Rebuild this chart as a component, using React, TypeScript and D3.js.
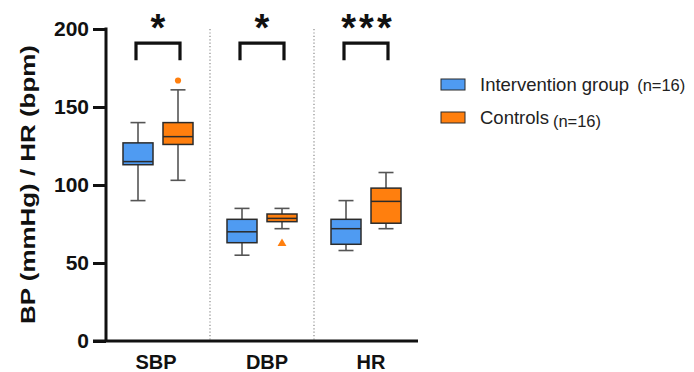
import { useEffect, useRef } from 'react';
import * as d3 from 'd3';

const categories = ['SBP', 'DBP', 'HR'];
const groups = ['Intervention group', 'Controls'];
const groupNotes = ['(n=16)', '(n=16)'];
const colors = ['#4f9bf2', '#ff7f0e'];

// box stats per category: [min, q1, median, q3, max]
const interventionStats = [
  [90, 113, 115, 127, 140],
  [55, 63, 70, 78, 85],
  [58, 62, 72, 78, 90],
];
const controlStats = [
  [103, 126, 131, 140, 161],
  [72, 76.5, 78.6, 81.4, 85],
  [72, 75.5, 89.5, 98, 108],
];
// outliers
const outliers = [
  { cat: 'SBP', group: 1, value: 167, shape: 'circle' },
  { cat: 'DBP', group: 1, value: 62.5, shape: 'triangle' },
];
const significance = ['*', '*', '***'];
const yTicks = [0, 50, 100, 150, 200];

const W = 694;
const H = 372;
const FONT = "'Liberation Sans', Arial, Helvetica, sans-serif";

const BoxChart = () => {
  const svgRef = useRef(null);

  useEffect(() => {
    const svg = d3.select(svgRef.current);
    svg.selectAll('*').remove();

    const left = 106, right = 418, top = 29, bottom = 341;

    const x = d3.scaleBand().domain(categories).range([left, right]);
    const xg = d3.scalePoint().domain(['0', '1']).range([0, x.bandwidth()]).padding(0.8);
    const y = d3.scaleLinear().domain([0, 200]).range([bottom, top]);
    const boxW = 30;
    const capW = 15;

    // dotted separators
    svg.append('g')
      .selectAll('line')
      .data(categories.slice(1))
      .enter()
      .append('line')
      .attr('x1', d => x(d))
      .attr('x2', d => x(d))
      .attr('y1', top)
      .attr('y2', bottom)
      .attr('stroke', '#8a8a8a')
      .attr('stroke-width', 1.2)
      .attr('stroke-dasharray', '1.2,2.2');

    const statsByGroup = [interventionStats, controlStats];

    statsByGroup.forEach((stats, gi) => {
      const g = svg.append('g');
      stats.forEach((s, ci) => {
        const cx = x(categories[ci]) + xg(String(gi));
        const [mn, q1, med, q3, mx] = s;
        // whiskers
        g.append('line')
          .attr('x1', cx).attr('x2', cx)
          .attr('y1', y(mx)).attr('y2', y(q3))
          .attr('stroke', '#555').attr('stroke-width', 1.6);
        g.append('line')
          .attr('x1', cx).attr('x2', cx)
          .attr('y1', y(q1)).attr('y2', y(mn))
          .attr('stroke', '#555').attr('stroke-width', 1.6);
        [mn, mx].forEach(v => {
          g.append('line')
            .attr('x1', cx - capW / 2).attr('x2', cx + capW / 2)
            .attr('y1', y(v)).attr('y2', y(v))
            .attr('stroke', '#555').attr('stroke-width', 1.6);
        });
        // box
        g.append('rect')
          .attr('x', cx - boxW / 2)
          .attr('y', y(q3))
          .attr('width', boxW)
          .attr('height', y(q1) - y(q3))
          .attr('fill', colors[gi])
          .attr('stroke', '#2b2b2b')
          .attr('stroke-width', 1.5);
        g.append('line')
          .attr('x1', cx - boxW / 2).attr('x2', cx + boxW / 2)
          .attr('y1', y(med)).attr('y2', y(med))
          .attr('stroke', '#2b2b2b').attr('stroke-width', 1.5);
      });
    });

    // outliers
    outliers.forEach(o => {
      const cx = x(o.cat) + xg(String(o.group));
      const sym = o.shape === 'circle' ? d3.symbolCircle : d3.symbolTriangle;
      svg.append('path')
        .attr('d', d3.symbol().type(sym).size(o.shape === 'circle' ? 30 : 34)())
        .attr('transform', `translate(${cx},${y(o.value)})`)
        .attr('fill', colors[o.group]);
    });

    // significance brackets
    categories.forEach((c, i) => {
      const x0 = x(c) + xg('0') - 2;
      const x1 = x(c) + xg('1') + 2;
      const yt = y(191), yb = y(180);
      svg.append('path')
        .attr('d', `M${x0},${yb}V${yt}H${x1}V${yb}`)
        .attr('fill', 'none')
        .attr('stroke', '#111')
        .attr('stroke-width', 3.2);
      svg.append('text')
        .attr('x', (x0 + x1) / 2 + (significance[i].length > 1 ? 2 : 0))
        .attr('y', 41)
        .attr('text-anchor', 'middle')
        .attr('font-family', FONT)
        .attr('font-weight', 'bold')
        .attr('font-size', 38)
        .attr('letter-spacing', significance[i].length > 1 ? 3 : 0)
        .attr('fill', '#111')
        .text(significance[i]);
    });

    // y axis
    const yAxis = svg.append('g')
      .attr('transform', `translate(${left},0)`)
      .call(d3.axisLeft(y).tickValues(yTicks).tickSize(13).tickPadding(4));
    yAxis.selectAll('text')
      .attr('font-family', FONT)
      .attr('font-weight', 'bold')
      .attr('font-size', 21)
      .attr('fill', '#111');
    yAxis.selectAll('.domain, .tick line')
      .attr('stroke', '#111')
      .attr('stroke-width', 3);
    yAxis.select('.domain').attr('d', `M0,${top - 1.5}V${bottom}`);

    // x axis line
    svg.append('line')
      .attr('x1', left - 13).attr('x2', right)
      .attr('y1', bottom).attr('y2', bottom)
      .attr('stroke', '#111')
      .attr('stroke-width', 3);

    svg.append('g')
      .selectAll('text')
      .data(categories)
      .enter()
      .append('text')
      .attr('x', d => x(d) + x.bandwidth() / 2 + (d === 'SBP' ? -2 : 5))
      .attr('y', 369)
      .attr('text-anchor', 'middle')
      .attr('font-family', FONT)
      .attr('font-weight', 'bold')
      .attr('font-size', 20)
      .attr('fill', '#111')
      .text(d => d);

    // y label
    svg.append('text')
      .attr('transform', `translate(35,${(45 + 324) / 2}) rotate(-90)`)
      .attr('text-anchor', 'middle')
      .attr('font-family', FONT)
      .attr('font-weight', 'bold')
      .attr('font-size', 21)
      .attr('textLength', 279)
      .attr('lengthAdjust', 'spacingAndGlyphs')
      .attr('fill', '#111')
      .text('BP (mmHg) / HR (bpm)');

    // legend
    const legend = svg.append('g').attr('transform', 'translate(441,79)');
    groups.forEach((name, i) => {
      const row = legend.append('g').attr('transform', `translate(0,${i * 33})`);
      row.append('rect')
        .attr('width', 24)
        .attr('height', 11)
        .attr('fill', colors[i])
        .attr('stroke', '#2b2b2b')
        .attr('stroke-width', 1);
      const t = row.append('text')
        .attr('x', 39)
        .attr('y', 12)
        .attr('font-family', FONT)
        .attr('font-size', 18.5)
        .attr('fill', '#222');
      t.append('tspan').text(name);
      t.append('tspan')
        .attr('dx', i === 0 ? 8 : 4)
        .attr('dy', i === 0 ? 0 : 3)
        .attr('font-size', 16.5)
        .text(groupNotes[i]);
    });
  }, []);

  return (
    <svg
      ref={svgRef}
      width={W}
      height={H}
      style={{ position: 'absolute', left: 0, top: 0, background: '#fff' }}
    />
  );
};

export default function App() {
  return <BoxChart />;
}
